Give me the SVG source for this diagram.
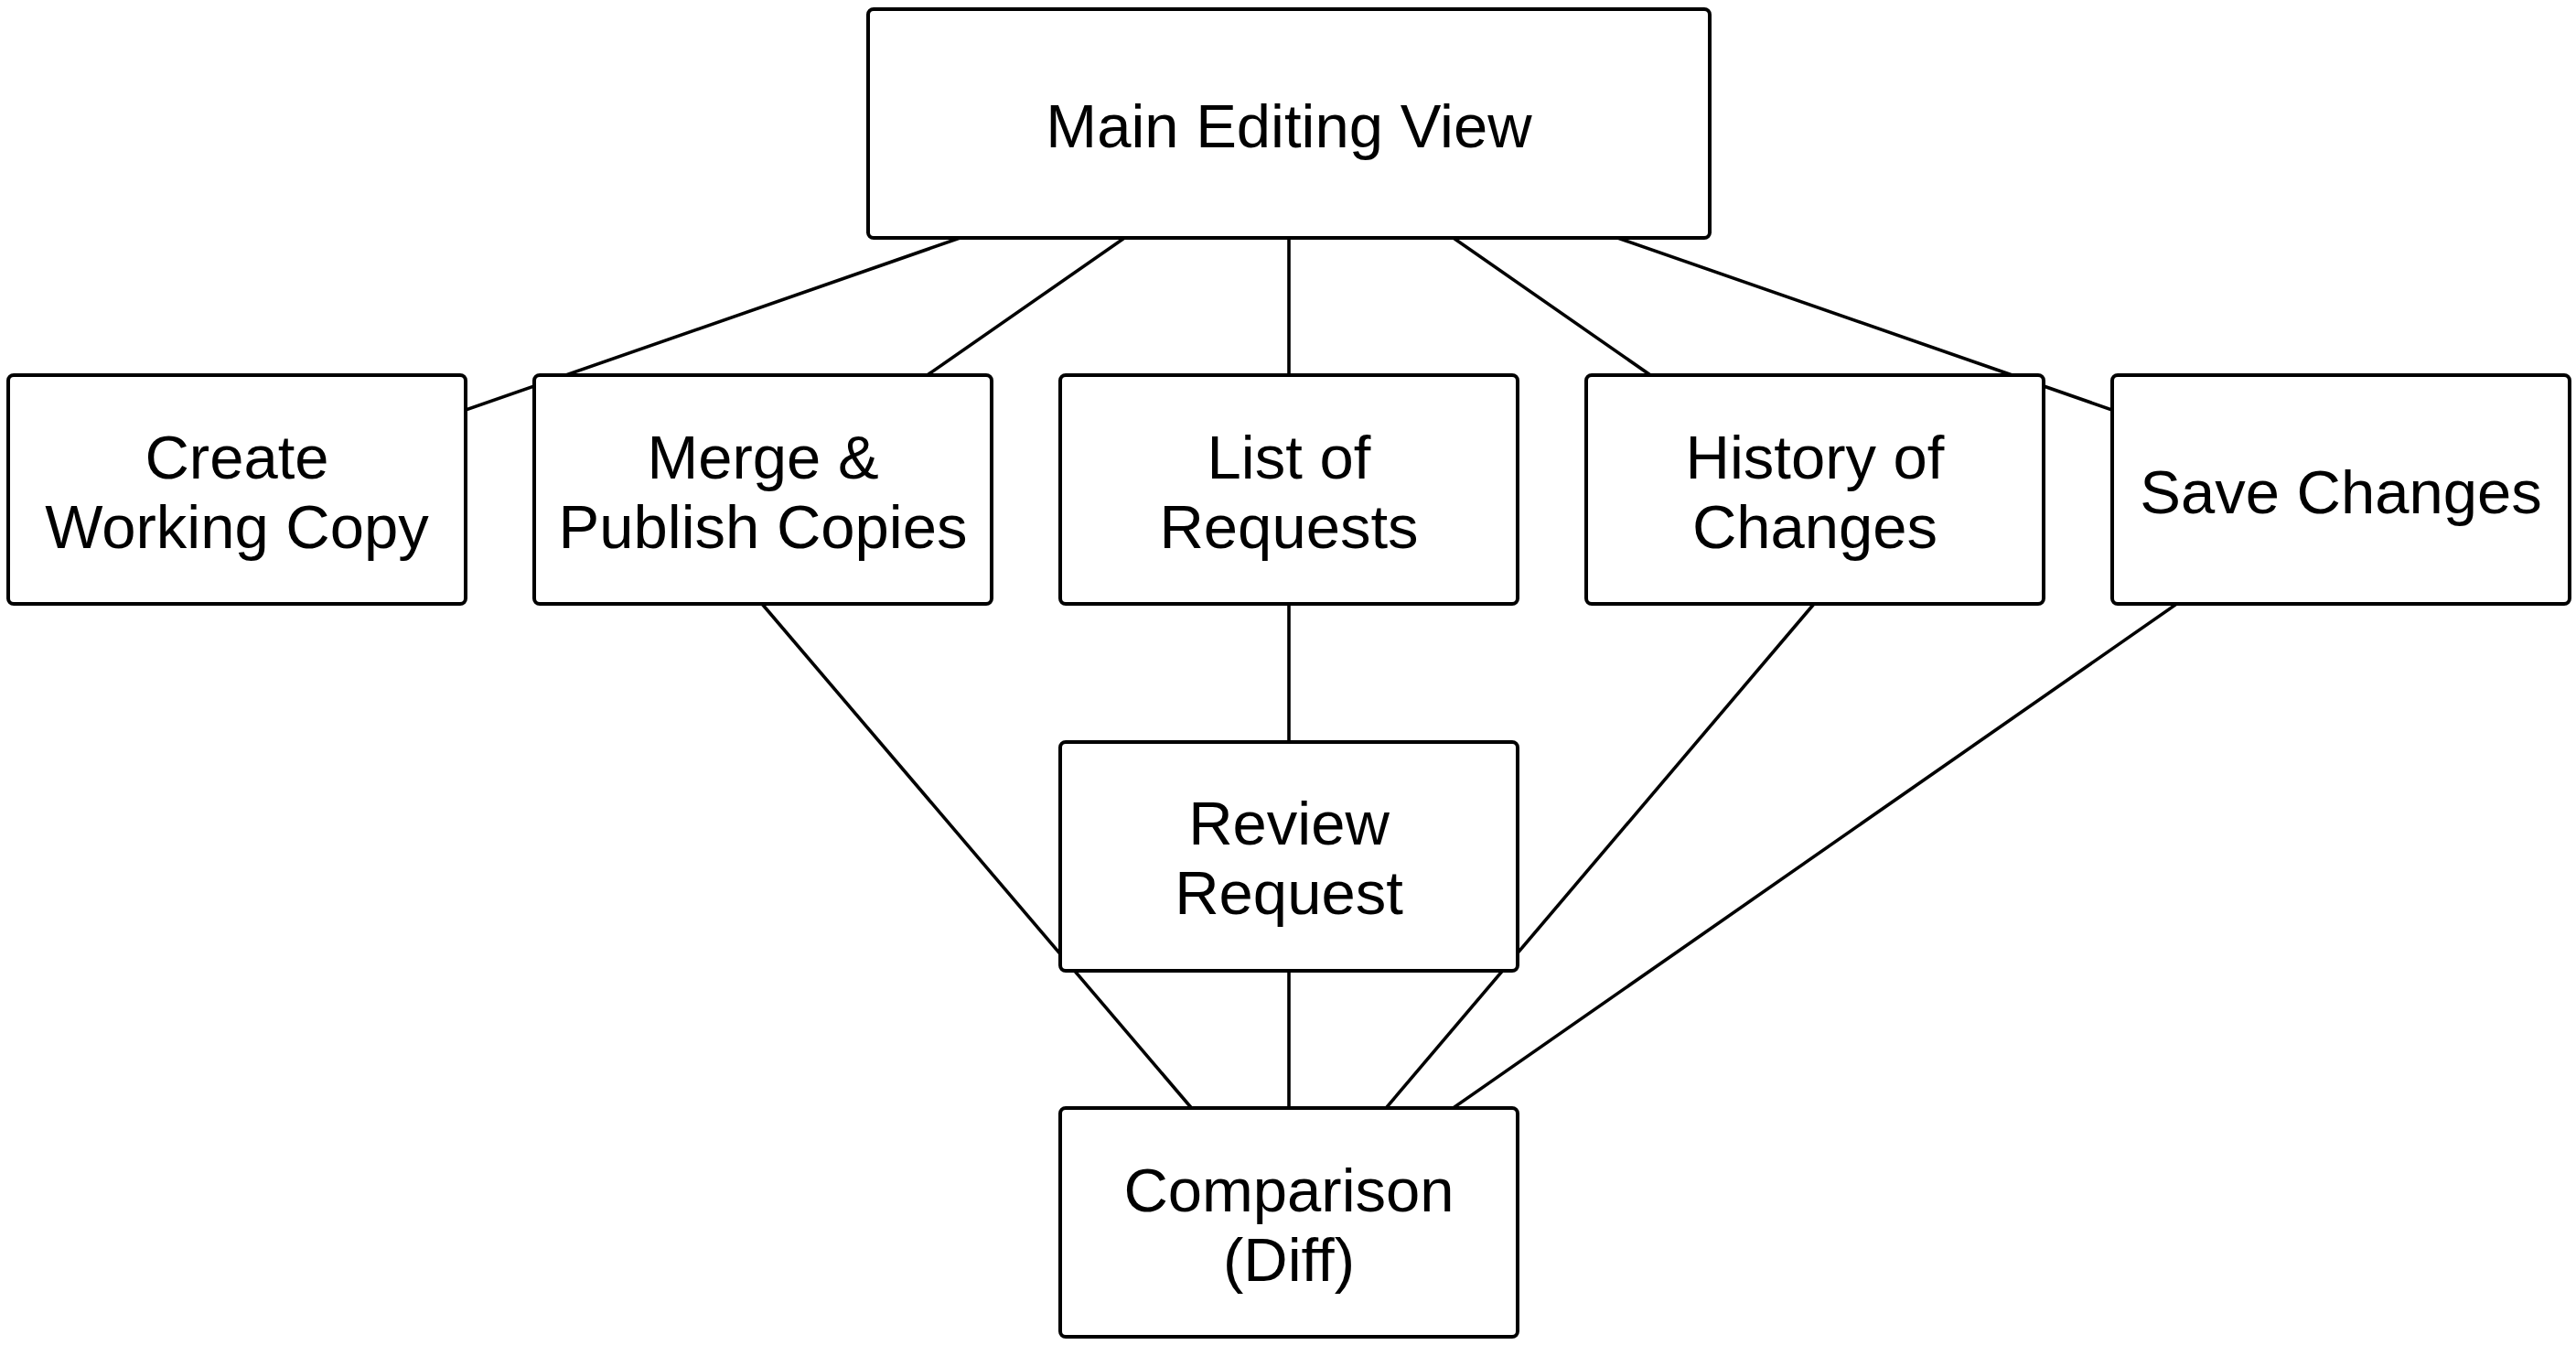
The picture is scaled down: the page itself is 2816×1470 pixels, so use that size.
<svg xmlns="http://www.w3.org/2000/svg" width="2816" height="1470" viewBox="0 0 2816 1470">
<style>
.edge{stroke:#000;stroke-width:3.6;fill:none}
.box{fill:#fff;stroke:#000;stroke-width:4}
.lbl{font-family:"Liberation Sans",Arial,sans-serif;font-size:67px;fill:#000;text-anchor:middle}
</style>
<rect width="2816" height="1470" fill="#fff"/>
<g id="connectors">
<line class="edge" x1="1409" y1="135" x2="259" y2="535"/>
<line class="edge" x1="1409" y1="135" x2="834" y2="535"/>
<line class="edge" x1="1409" y1="135" x2="1409" y2="535"/>
<line class="edge" x1="1409" y1="135" x2="1984" y2="535"/>
<line class="edge" x1="1409" y1="135" x2="2559" y2="535"/>
<line class="edge" x1="1409" y1="535" x2="1409" y2="936"/>
<line class="edge" x1="1409" y1="936" x2="1409" y2="1336"/>
<line class="edge" x1="833" y1="660" x2="1409" y2="1336"/>
<line class="edge" x1="1983" y1="660" x2="1409" y2="1336"/>
<line class="edge" x1="2559" y1="535" x2="1409" y2="1336"/>
</g>
<g id="main">
<rect class="box" x="949" y="10" width="920" height="250" rx="6"/>
<text class="lbl" x="1409" y="161">Main Editing View</text>
</g>
<g id="create">
<rect class="box" x="9" y="410" width="500" height="250" rx="6"/>
<text class="lbl" x="259" y="523">Create</text>
<text class="lbl" x="259" y="599">Working Copy</text>
</g>
<g id="merge">
<rect class="box" x="584" y="410" width="500" height="250" rx="6"/>
<text class="lbl" x="834" y="523">Merge &amp;</text>
<text class="lbl" x="834" y="599">Publish Copies</text>
</g>
<g id="list">
<rect class="box" x="1159" y="410" width="500" height="250" rx="6"/>
<text class="lbl" x="1409" y="523">List of</text>
<text class="lbl" x="1409" y="599">Requests</text>
</g>
<g id="history">
<rect class="box" x="1734" y="410" width="500" height="250" rx="6"/>
<text class="lbl" x="1984" y="523">History of</text>
<text class="lbl" x="1984" y="599">Changes</text>
</g>
<g id="save">
<rect class="box" x="2309" y="410" width="500" height="250" rx="6"/>
<text class="lbl" x="2559" y="561">Save Changes</text>
</g>
<g id="review">
<rect class="box" x="1159" y="811" width="500" height="250" rx="6"/>
<text class="lbl" x="1409" y="923">Review</text>
<text class="lbl" x="1409" y="999">Request</text>
</g>
<g id="comparison">
<rect class="box" x="1159" y="1211" width="500" height="250" rx="6"/>
<text class="lbl" x="1409" y="1324">Comparison</text>
<text class="lbl" x="1409" y="1400">(Diff)</text>
</g>
</svg>
